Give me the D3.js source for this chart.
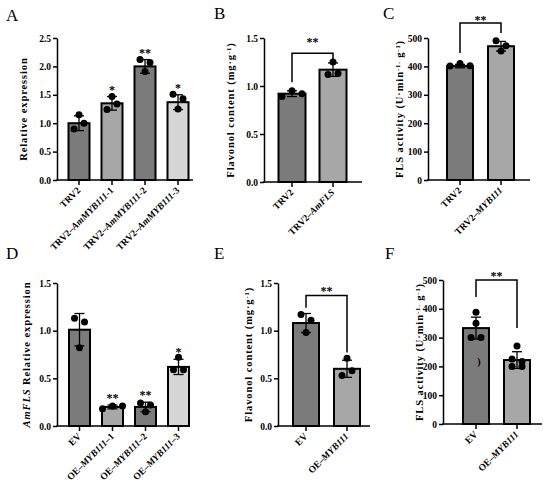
<!DOCTYPE html>
<html>
<head>
<meta charset="utf-8">
<script src="https://cdn.jsdelivr.net/npm/d3@7.9.0/dist/d3.min.js"></script>
<style>
  body { margin: 0; background: #fff; }
  svg { display: block; font-family: "Liberation Serif", "Times New Roman", serif; }
</style>
</head>
<body>
<svg id="fig" width="550" height="491"></svg>
<script>
// values (means, SD, individual replicates)

const groupsA = ['TRV2', 'TRV2–AmMYB111-1', 'TRV2–AmMYB111-2', 'TRV2–AmMYB111-3'];
const meanA = [1.00, 1.35, 2.00, 1.37];
const sdA = [0.13, 0.12, 0.12, 0.13];
const pointsA = [[1.15, 0.90, 1.00], [1.47, 1.24, 1.34], [2.12, 1.91, 2.07], [1.51, 1.25, 1.43]];
const starsA = ['', '*', '**', '*'];

const groupsB = ['TRV2', 'TRV2–AmFLS'];
const meanB = [0.92, 1.17];
const sdB = [0.03, 0.07];
const pointsB = [[0.89, 0.95, 0.92], [1.12, 1.25, 1.13]];

const groupsC = ['TRV2', 'TRV2–MYB111'];
const meanC = [401, 471];
const sdC = [6, 17];
const pointsC = [[401, 410, 402], [490, 454, 473]];

const groupsD = ['EV', 'OE–MYB111–1', 'OE–MYB111–2', 'OE–MYB111–3'];
const meanD = [1.01, 0.20, 0.20, 0.62];
const sdD = [0.17, 0.02, 0.05, 0.08];
const pointsD = [[1.13, 1.09, 0.82], [0.18, 0.21, 0.21], [0.24, 0.15, 0.22], [0.59, 0.72, 0.59]];
const starsD = ['', '**', '**', '*'];

const groupsE = ['EV', 'OE–MYB111'];
const meanE = [1.08, 0.60];
const sdE = [0.10, 0.09];
const pointsE = [[1.17, 1.11, 0.98], [0.53, 0.71, 0.58]];

const groupsF = ['EV', 'OE–MYB111'];
const meanF = [333, 222];
const sdF = [38, 29];
const pointsF = [[388, 350, 300, 300], [271, 226, 200, 217, 200]];

// gene names are set in italic
const italicRe = /(AmMYB111|MYB111|AmFLS)/;

const dark = '#7b7b7b', mid = '#a7a7a7', light = '#d6d6d6';

const panels = [
  { letter: 'A', letterPos: [6, 21], cats: groupsA, mean: meanA, sd: sdA, pts: pointsA, stars: starsA,
    yMax: 2.5, yStep: 0.5, fmt: '.1f', xAxis: [57, 193], yRange: [180, 38], centers: [79, 178], bw: 21,
    fills: [dark, mid, dark, light], labelX: 27,
    yLabel: [{ t: 'Relative expression' }] },
  { letter: 'B', letterPos: [214, 19], cats: groupsB, mean: meanB, sd: sdB, pts: pointsB,
    yMax: 1.5, yStep: 0.5, fmt: '.1f', xAxis: [264, 362], yRange: [182, 38], centers: [292, 333], bw: 27,
    fills: [dark, mid], labelX: 234,
    yLabel: [{ t: 'Flavonol content (mg·g' }, { t: '-1', sup: true }, { t: ')' }],
    bracket: { top: 1.34, left: 1.04, right: 1.27, starGap: 11 } },
  { letter: 'C', letterPos: [383, 19], cats: groupsC, mean: meanC, sd: sdC, pts: pointsC,
    yMax: 500, yStep: 100, fmt: 'd', xAxis: [428, 530], yRange: [180, 38], centers: [460, 501], bw: 26,
    fills: [dark, mid], labelX: 403,
    yLabel: [{ t: 'FLS activity (U·min' }, { t: '-1.', sup: true }, { t: ' g' }, { t: '-1', sup: true }, { t: ')' }],
    bracket: { top: 553, left: 447, right: 518, starGap: 3 } },
  { letter: 'D', letterPos: [6, 259], cats: groupsD, mean: meanD, sd: sdD, pts: pointsD, stars: starsD,
    yMax: 1.5, yStep: 0.5, fmt: '.1f', xAxis: [57, 190], yRange: [426, 283], centers: [79.5, 178.5], bw: 21,
    fills: [dark, mid, dark, light], labelX: 30,
    yLabel: [{ t: 'AmFLS', it: true }, { t: ' Relative expression' }] },
  { letter: 'E', letterPos: [214, 259], cats: groupsE, mean: meanE, sd: sdE, pts: pointsE,
    yMax: 1.5, yStep: 0.5, fmt: '.1f', xAxis: [278, 370], yRange: [426, 283], centers: [306, 347], bw: 26,
    fills: [dark, mid], labelX: 252,
    yLabel: [{ t: 'Flavonol content (mg·g' }, { t: '-1', sup: true }, { t: ')' }],
    bracket: { top: 1.37, left: 1.24, right: 0.77, starGap: 4 } },
  { letter: 'F', letterPos: [385, 259], cats: groupsF, mean: meanF, sd: sdF, pts: pointsF,
    yMax: 500, yStep: 100, fmt: 'd', xAxis: [443, 542], yRange: [424, 280], centers: [476, 517], bw: 26,
    fills: [dark, mid], labelX: 423,
    yLabel: [{ t: 'FLS activity (U·min' }, { t: '-1.', sup: true }, { t: ' g' }, { t: '-1', sup: true }, { t: ')' }],
    bracket: { top: 500, left: 441, right: 333, starGap: 4 },
    note: { i: 0, v: 205, t: ')' } }
];

const svg = d3.select('#fig');
const R = 3.5;      // dot radius
const ROWGAP = 10;  // horizontal spacing of dots sharing a row

// simple swarm: dots closer than a diameter vertically share a centred row
function swarm(vals, y) {
  const idx = vals.map((v, i) => i).sort((a, b) => vals[b] - vals[a]);
  const rows = [];
  idx.forEach(i => {
    const last = rows[rows.length - 1];
    if (last && Math.abs(y(vals[last[0]]) - y(vals[i])) < 2 * R) last.push(i);
    else rows.push([i]);
  });
  const dx = new Array(vals.length).fill(0);
  rows.forEach(r => {
    r.sort((a, b) => a - b);
    r.forEach((i, k) => { dx[i] = (k - (r.length - 1) / 2) * ROWGAP; });
  });
  return vals.map((v, i) => ({ v, dx: dx[i] }));
}

function addRich(textSel, parts) {
  parts.forEach(p => {
    const ts = textSel.append('tspan').text(p.t);
    if (p.it) ts.attr('font-style', 'italic');
    if (p.sup) ts.attr('baseline-shift', 'super').attr('font-size', '6.5px');
  });
}

function drawPanel(p) {
  const g = svg.append('g');
  const n = p.cats.length;
  const y = d3.scaleLinear().domain([0, p.yMax]).range(p.yRange);
  const step = (p.centers[1] - p.centers[0]) / (n - 1);
  const pad = 1 - p.bw / step;
  const x = d3.scaleBand().domain(p.cats)
    .range([p.centers[0] - step / 2, p.centers[1] + step / 2])
    .paddingInner(pad).paddingOuter(pad / 2);
  const cx = d => x(d) + x.bandwidth() / 2;

  // bars
  g.selectAll('rect.bar')
    .data(p.cats)
    .join('rect')
    .attr('class', 'bar')
    .attr('x', d => x(d))
    .attr('width', x.bandwidth())
    .attr('y', (d, i) => y(p.mean[i]))
    .attr('height', (d, i) => y(0) - y(p.mean[i]))
    .attr('fill', (d, i) => p.fills[i])
    .attr('stroke', '#000')
    .attr('stroke-width', 2);

  // error bars
  const err = g.selectAll('g.err').data(p.cats).join('g').attr('class', 'err')
    .attr('stroke', '#000').attr('stroke-width', 1.3);
  err.append('line')
    .attr('x1', d => cx(d)).attr('x2', d => cx(d))
    .attr('y1', (d, i) => y(p.mean[i] - p.sd[i]))
    .attr('y2', (d, i) => y(p.mean[i] + p.sd[i]));
  [-1, 1].forEach(s => {
    err.append('line')
      .attr('x1', d => cx(d) - 5).attr('x2', d => cx(d) + 5)
      .attr('y1', (d, i) => y(p.mean[i] + s * p.sd[i]))
      .attr('y2', (d, i) => y(p.mean[i] + s * p.sd[i]));
  });

  // replicate dots
  p.cats.forEach((c, i) => {
    g.append('g').selectAll('circle')
      .data(swarm(p.pts[i], y))
      .join('circle')
      .attr('cx', d => cx(c) + d.dx)
      .attr('cy', d => y(d.v))
      .attr('r', R)
      .attr('fill', '#000');
  });

  // y axis
  const ticks = d3.range(0, p.yMax + p.yStep / 2, p.yStep);
  const ya = g.append('g')
    .attr('transform', `translate(${p.xAxis[0]},0)`)
    .call(d3.axisLeft(y).tickValues(ticks).tickSize(4).tickSizeOuter(0).tickPadding(2).tickFormat(d3.format(p.fmt)));
  ya.selectAll('path,line').attr('stroke', '#000').attr('stroke-width', 1.5);
  ya.selectAll('text').attr('font-family', '"Liberation Serif", serif').attr('font-size', '9.5px').attr('font-weight', 'bold').attr('fill', '#000');

  // x axis
  const xa = g.append('g')
    .attr('transform', `translate(0,${y(0)})`)
    .call(d3.axisBottom(x).tickSize(5).tickFormat(''));
  xa.select('.domain').remove();
  xa.selectAll('line').attr('stroke', '#000').attr('stroke-width', 1.5);
  g.append('line')
    .attr('x1', p.xAxis[0] - 0.75).attr('x2', p.xAxis[1])
    .attr('y1', y(0)).attr('y2', y(0))
    .attr('stroke', '#000').attr('stroke-width', 1.5);

  p.cats.forEach(c => {
    const t = g.append('text')
      .attr('transform', `translate(${cx(c) + 2},${y(0) + 11}) rotate(-45)`)
      .attr('text-anchor', 'end')
      .attr('font-size', '9.5px')
      .attr('font-weight', 'bold');
    addRich(t, c.split(italicRe).filter(s => s).map(s => ({ t: s, it: italicRe.test(s) })));
  });

  // y label
  const yl = g.append('text')
    .attr('transform', `translate(${p.labelX},${(p.yRange[0] + p.yRange[1]) / 2}) rotate(-90)`)
    .attr('text-anchor', 'middle')
    .attr('font-size', '10.5px')
    .attr('font-weight', 'bold')
    .attr('letter-spacing', '0.9px');
  addRich(yl, p.yLabel);

  // significance stars over single bars
  if (p.stars) {
    g.selectAll('text.star').data(p.cats).join('text')
      .attr('class', 'star')
      .attr('x', d => cx(d))
      .attr('y', (d, i) => y(p.mean[i] + p.sd[i]) - 3)
      .attr('text-anchor', 'middle')
      .attr('font-size', '12px')
      .attr('font-weight', 'bold')
      .text((d, i) => p.stars[i]);
  }

  // comparison bracket
  if (p.bracket) {
    const b = p.bracket;
    const x0 = cx(p.cats[0]), x1 = cx(p.cats[1]);
    g.append('path')
      .attr('d', `M${x0},${y(b.left)}V${y(b.top)}H${x1}V${y(b.right)}`)
      .attr('fill', 'none').attr('stroke', '#000').attr('stroke-width', 1.5);
    g.append('text')
      .attr('x', (x0 + x1) / 2)
      .attr('y', y(b.top) - b.starGap + 4)
      .attr('text-anchor', 'middle')
      .attr('font-size', '12px')
      .attr('font-weight', 'bold')
      .text('**');
  }

  if (p.note) {
    g.append('text')
      .attr('x', cx(p.cats[p.note.i]) + 3)
      .attr('y', y(p.note.v))
      .attr('text-anchor', 'middle')
      .attr('font-size', '10px')
      .attr('font-weight', 'bold')
      .text(p.note.t);
  }

  // panel letter
  g.append('text')
    .attr('x', p.letterPos[0]).attr('y', p.letterPos[1])
    .attr('font-size', '17px')
    .text(p.letter);
}

panels.forEach(drawPanel);
</script>
</body>
</html>
